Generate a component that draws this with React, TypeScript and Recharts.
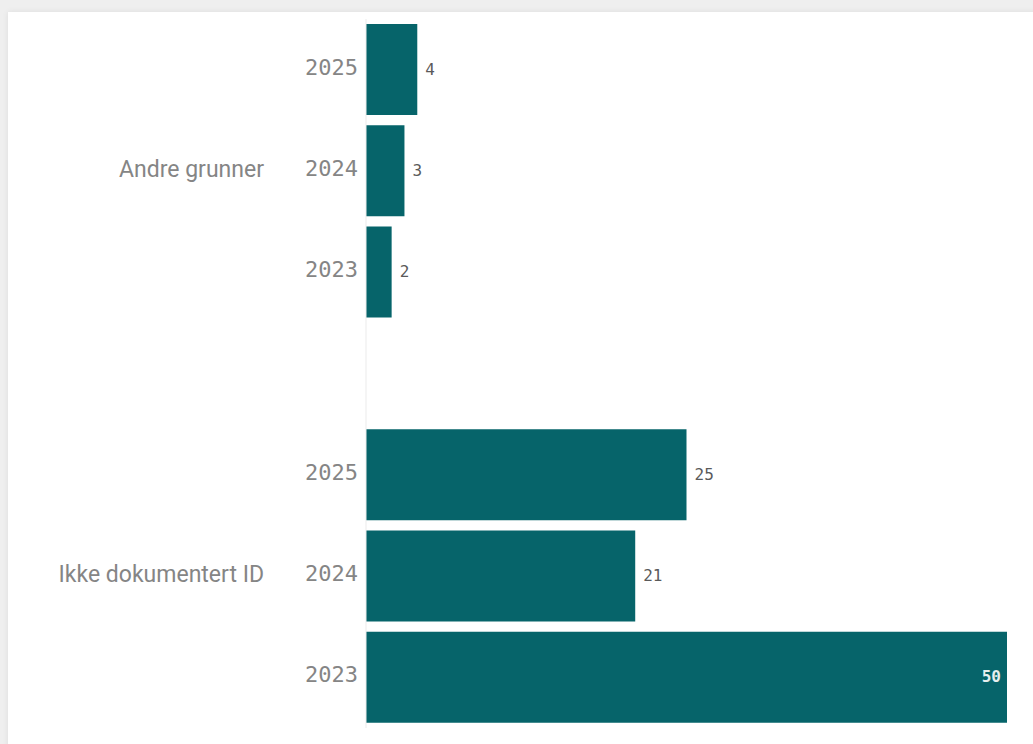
import React from "react";
import { Bar, BarChart, LabelList, XAxis, YAxis } from "recharts";

const groups = ["Andre grunner", "Ikke dokumentert ID"];
const years = ["2025", "2024", "2023"];
const andreGrunner = [4, 3, 2];
const ikkeDokumentertId = [25, 21, 50];

const seriesByGroup = [andreGrunner, ikkeDokumentertId];

// one row per bar, with an empty spacer row between the two groups
const rows: { key: string; group: string; year: string; value: number | null; mid: boolean }[] = [];
groups.forEach((group, gi) => {
  if (gi > 0) rows.push({ key: `gap-${gi}`, group: "", year: "", value: null, mid: false });
  years.forEach((year, yi) => {
    rows.push({
      key: `${group}|${year}`,
      group,
      year,
      value: seriesByGroup[gi][yi],
      mid: yi === 1,
    });
  });
});

const maxValue = 50;
const barColor = "#06646a";

const YearTick = ({ x, y, payload }: any) => {
  const row = rows.find((r) => r.key === payload.value);
  if (!row || !row.year) return null;
  return (
    <g>
      <text
        x={x}
        y={y}
        dy={5}
        textAnchor="end"
        fill="#858585"
        fontFamily="'DejaVu Sans Mono', monospace"
        fontSize={22}
      >
        {row.year}
      </text>
      {row.mid && (
        <text
          x={x - 94}
          y={y}
          dy={6}
          textAnchor="end"
          fill="#858585"
          fontFamily="Roboto, sans-serif"
          fontSize={23}
        >
          {row.group}
        </text>
      )}
    </g>
  );
};

const ValueLabel = ({ x, y, width, height, value }: any) => {
  if (value == null) return null;
  const inside = value >= maxValue * 0.9;
  return (
    <text
      x={inside ? x + width - 6 : x + width + 8}
      y={y + height / 2}
      dy={5}
      textAnchor={inside ? "end" : "start"}
      fill={inside ? "#e6eeee" : "#5a5a5a"}
      fontWeight={inside ? "bold" : "normal"}
      fontFamily="'DejaVu Sans Mono', monospace"
      fontSize={16}
    >
      {value}
    </text>
  );
};

export default function App() {
  return (
    <div
      style={{
        position: "fixed",
        left: 0,
        top: 0,
        width: 1033,
        height: 744,
        background: "#efefef",
        overflow: "hidden",
      }}
    >
      <div
        style={{
          position: "absolute",
          left: 8,
          top: 12,
          width: 1040,
          height: 750,
          background: "#fff",
          boxShadow: "0 0 6px rgba(0,0,0,0.08)",
        }}
      />
      <div style={{ position: "absolute", left: 0, top: 0 }}>
        <BarChart
          width={1033}
          height={744}
          data={rows}
          layout="vertical"
          margin={{ top: 19, right: 26, bottom: 16, left: 0 }}
          barCategoryGap={5}
        >
          <XAxis type="number" domain={[0, maxValue]} hide />
          <YAxis
            type="category"
            dataKey="key"
            width={366}
            axisLine={{ stroke: "#ebebeb" }}
            tickLine={false}
            tickSize={0}
            tickMargin={8}
            interval={0}
            tick={<YearTick />}
          />
          <Bar dataKey="value" fill={barColor} isAnimationActive={false}>
            <LabelList dataKey="value" content={<ValueLabel />} />
          </Bar>
        </BarChart>
      </div>
    </div>
  );
}
